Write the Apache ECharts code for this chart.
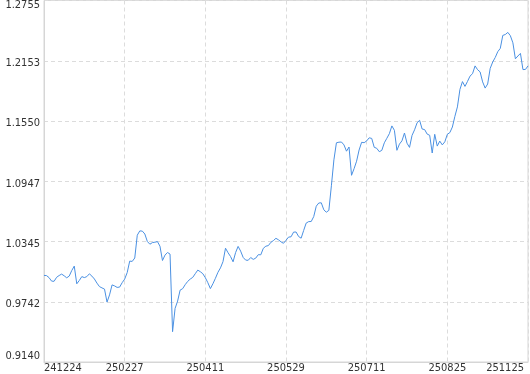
<!DOCTYPE html>
<html><head><meta charset="utf-8">
<script src="https://cdn.jsdelivr.net/npm/echarts@6/dist/echarts.min.js"></script>
<style>html,body{margin:0;padding:0;background:#fff}#c{width:530px;height:374px}</style>
</head><body><div id="c"></div>
<script>
const navValues = [
1.0006,1.0004,0.9984,0.9949,0.9947,0.9987,1.0005,1.0019,1.0002,0.9982,
0.9999,1.0054,1.0099,0.9922,0.9955,0.9994,0.9984,0.9994,1.0022,0.9999,
0.9970,0.9929,0.9894,0.9881,0.9869,0.9739,0.9811,0.9911,0.9901,0.9886,
0.9889,0.9933,0.9969,1.0034,1.0149,1.0146,1.0180,1.0408,1.0451,1.0449,
1.0420,1.0345,1.0318,1.0334,1.0338,1.0344,1.0298,1.0155,1.0209,1.0235,
1.0219,0.9443,0.9676,0.9749,0.9859,0.9873,0.9913,0.9946,0.9969,0.9986,
1.0023,1.0059,1.0043,1.0023,0.9983,0.9933,0.9874,0.9922,0.9977,1.0037,
1.0081,1.0143,1.0278,1.0233,1.0195,1.0142,1.0234,1.0296,1.0249,1.0186,
1.0159,1.0157,1.0185,1.0166,1.0179,1.0213,1.0212,1.0277,1.0298,1.0304,
1.0337,1.0354,1.0377,1.0362,1.0342,1.0327,1.0357,1.0389,1.0392,1.0439,
1.0440,1.0395,1.0378,1.0455,1.0529,1.0544,1.0545,1.0594,1.0698,1.0730,
1.0732,1.0662,1.0638,1.0656,1.0902,1.1161,1.1332,1.1338,1.1340,1.1311,
1.1248,1.1290,1.1007,1.1073,1.1148,1.1260,1.1337,1.1333,1.1351,1.1382,
1.1376,1.1287,1.1277,1.1243,1.1256,1.1332,1.1377,1.1423,1.1501,1.1457,
1.1257,1.1319,1.1352,1.1430,1.1328,1.1286,1.1406,1.1462,1.1532,1.1557,
1.1470,1.1464,1.1419,1.1407,1.1230,1.1417,1.1299,1.1349,1.1311,1.1342,
1.1417,1.1434,1.1490,1.1597,1.1691,1.1866,1.1944,1.1896,1.1946,1.1999,
1.2023,1.2101,1.2063,1.2041,1.1941,1.1879,1.1920,1.2076,1.2140,1.2185,
1.2243,1.2276,1.2406,1.2415,1.2436,1.2403,1.2332,1.2172,1.2200,1.2226,
1.2064,1.2066,1.2101
];
const xTickLabels = ['241224','250227','250411','250529','250711','250825','251125'];
const yTickLabels = ['0.9140','0.9742','1.0345','1.0947','1.1550','1.2153','1.2755'];
const yMin = 0.9140;
const yMax = 1.2755;
const yInterval = 0.06025;

const step = (navValues.length - 1) / (xTickLabels.length - 1);
const categories = navValues.map((v, i) => (i % step === 0 ? xTickLabels[i / step] : ''));
const lastLabel = xTickLabels[xTickLabels.length - 1];
const firstLabel = xTickLabels[0];

const FONT = 'DejaVu Sans Condensed, Liberation Sans, sans-serif';
const chart = echarts.init(document.getElementById('c'), null, {renderer: 'canvas'});
chart.setOption({
  animation: false,
  grid: {left: 44, right: 2, top: 0.5, bottom: 12, show: true, borderColor: '#d6d6d6', borderWidth: 1, containLabel: false},
  xAxis: {
    type: 'category',
    data: categories,
    boundaryGap: false,
    axisLine: {show: true, lineStyle: {color: '#d6d6d6', width: 1}},
    axisTick: {show: false},
    axisLabel: {
      interval: step - 1,
      margin: 1,
      color: '#333',
      fontSize: 11,
      fontFamily: FONT,
      alignMinLabel: 'left',
      alignMaxLabel: 'right',
      formatter: function (v) {
        if (v === lastLabel) return '{r|' + v + '}';
        if (v === firstLabel) return '{l|' + v + '}';
        return v;
      },
      rich: {
        r: {fontSize: 11, fontFamily: FONT, color: '#333', padding: [0, 4, 0, 0]},
        l: {fontSize: 11, fontFamily: FONT, color: '#333', padding: [0, 0, 0, 0]}
      }
    },
    splitLine: {show: true, interval: step - 1, lineStyle: {color: '#dcdcdc', type: [4, 3], width: 1}}
  },
  yAxis: {
    type: 'value',
    min: yMin,
    max: yMax,
    interval: yInterval,
    axisLine: {show: true, lineStyle: {color: '#d6d6d6', width: 1}},
    axisTick: {show: false},
    axisLabel: {
      margin: 4,
      color: '#333',
      fontSize: 11,
      fontFamily: FONT,
      formatter: function (v) {
        const k = Math.round((v - yMin) / yInterval);
        const t = yTickLabels[k];
        if (k === yTickLabels.length - 1) return '{t|' + t + '}';
        if (k === 0) return '{b|' + t + '}';
        return '{m|' + t + '}';
      },
      rich: {
        t: {fontSize: 11, fontFamily: FONT, color: '#333', padding: [10, 0, 0, 0]},
        b: {fontSize: 11, fontFamily: FONT, color: '#333', padding: [0, 0, 12, 0]},
        m: {fontSize: 11, fontFamily: FONT, color: '#333', padding: [5, 0, 0, 0]}
      }
    },
    splitLine: {show: true, lineStyle: {color: '#dcdcdc', type: [4, 3], width: 1}}
  },
  series: [{
    type: 'line',
    data: navValues,
    showSymbol: false,
    symbol: 'none',
    lineStyle: {color: '#4a90e2', width: 1},
    itemStyle: {color: '#4a90e2'}
  }]
});
</script>
</body></html>
